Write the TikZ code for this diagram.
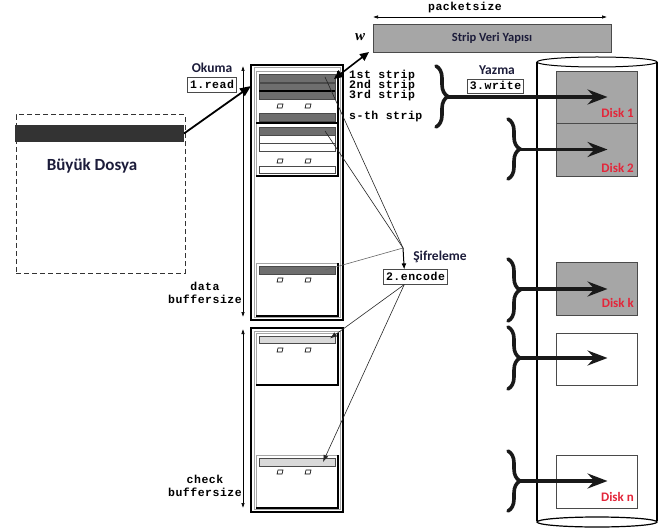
\documentclass[tikz,border=0pt]{standalone}
\usepackage{fontspec}
\setmainfont{Carlito}
\newfontfamily\monofont[LetterSpace=4.5]{Liberation Mono}
\newfontfamily\wseriffont{Liberation Serif}
\usetikzlibrary{arrows.meta,decorations.pathreplacing,calc}
\definecolor{navy}{HTML}{1C1C3A}
\definecolor{diskred}{HTML}{E3263A}
\definecolor{boxgray}{HTML}{A6A6A6}
\definecolor{bardark}{HTML}{6E6E6E}
\definecolor{barlight}{HTML}{D9D9D9}
\definecolor{edgegray}{HTML}{4A4A4A}
\newcommand{\tinyslot}[2]{\draw[line width=0.6pt, fill=white] (#1-3,#2+2) -- (#1+2,#2+2) -- (#1+3,#2-2) -- (#1-2,#2-2) -- cycle;}
\begin{document}
\begin{tikzpicture}[x=1pt,y=-1pt,
  rectnode/.style={anchor=north west, inner sep=0pt, outer sep=0pt},
  lbl/.style={font=\bfseries\fontsize{13.5}{15}\selectfont, text=navy, inner sep=0pt},
  mono/.style={font=\monofont\bfseries\fontsize{11.5}{10}\selectfont, inner sep=0pt},
  monobox/.style={mono, draw=edgegray, line width=0.7pt, fill=white, inner xsep=2.5pt, inner ysep=2pt, text height=8.5pt, text depth=2pt},
  disklbl/.style={font=\bfseries\fontsize{13}{14}\selectfont, text=diskred, inner sep=0pt, anchor=east},
  dbar/.style={rectnode, draw=edgegray, fill=bardark, line width=0.6pt},
  lbar/.style={rectnode, draw=edgegray, fill=barlight, line width=0.6pt},
  wbar/.style={rectnode, draw=edgegray, fill=white, line width=0.6pt},
  blk/.style={rectnode, draw=gray!70, line width=0.8pt},
  diskbox/.style={rectnode, draw=edgegray, line width=0.8pt},
  bigbrace/.style={decorate, decoration={brace, amplitude=12pt}, line width=3.6pt, line cap=round, draw=black!90},
  diskarrow/.style={line width=3.4pt, draw=black!90, -{Stealth[length=20pt,width=15pt,inset=7pt]}},
  dimarrow/.style={line width=0.6pt, {Latex[length=5pt,width=3.5pt]}-{Latex[length=5pt,width=3.5pt]}},
  thinline/.style={line width=0.6pt, draw=black!85},
  ]
\useasboundingbox (0,0) rectangle (671,529);

% ---------- big file ----------
\node[rectnode, draw=black!80, dashed, dash pattern=on 5pt off 3pt, line width=1pt, minimum width=169, minimum height=158] (file) at (16,115) {};
\node[rectnode, fill=black!80, minimum width=169, minimum height=17] (filebar) at (15,125) {};
\node[font=\bfseries\fontsize{17}{19}\selectfont, text=navy, inner sep=0pt] (filelbl) at (92,166) {Büyük Dosya};

% ---------- read ----------
\node[lbl] (okuma) at (212,68) {Okuma};
\node[monobox] (read) at (212,85) {1.read};

% ---------- dimension arrows left ----------
\coordinate (dT) at (243,66);
\coordinate (dB) at (243,317);
\coordinate (cT) at (243,329);
\coordinate (cB) at (243,508);
\draw[dimarrow] (dT) -- (dB);
\draw[dimarrow] (cT) -- (cB);
\node[mono, font=\monofont\bfseries\fontsize{11.5}{13}\selectfont, align=center] (datalbl) at (205,293) {data\\buffersize};
\node[mono, font=\monofont\bfseries\fontsize{11.5}{13}\selectfont, align=center] (chklbl) at (205,486) {check\\buffersize};

% ---------- data buffer ----------
\node[rectnode, draw, line width=2pt, minimum width=92, minimum height=255] (dbuf) at (251,65) {};
\draw[gray!70, line width=0.6pt] (253.8,67.8) rectangle (340.2,317.2);
\node[blk, minimum width=82, minimum height=52] (blkA) at (256,71) {};
\node[blk, minimum width=82, minimum height=53] (blkB) at (256,123) {};
\node[blk, minimum width=82, minimum height=53] (blkC) at (256,263) {};

\node[dbar, minimum width=76, minimum height=8] (bar1) at (259,74) {};
\node[dbar, minimum width=76, minimum height=8] (bar2) at (259,83) {};
\node[dbar, minimum width=76, minimum height=8] (bar3) at (259,91) {};
\draw[line width=1.3pt] (bar3.north west) -- (bar3.north east);
\tinyslot{280}{106}\tinyslot{308}{106}
\node[dbar, minimum width=76, minimum height=8] (bars) at (259,113) {};

\node[dbar, minimum width=76, minimum height=8] (barB1) at (259,127) {};
\node[wbar, minimum width=76, minimum height=8] (barB2) at (259,135) {};
\node[wbar, minimum width=76, minimum height=8] (barB3) at (259,143) {};
\tinyslot{280}{161}\tinyslot{308}{161}
\node[wbar, minimum width=76, minimum height=7] (barB4) at (259,166) {};

\node[dbar, minimum width=76, minimum height=8] (barC) at (259,266) {};
\tinyslot{280}{280}\tinyslot{308}{280}

% ---------- check buffer ----------
\node[rectnode, draw, line width=2pt, minimum width=92, minimum height=184] (cbuf) at (251,328) {};
\draw[gray!70, line width=0.6pt] (253.8,330.8) rectangle (340.2,509.2);
\node[blk, minimum width=82, minimum height=52] (cblk1) at (256,333) {};
\node[blk, minimum width=82, minimum height=53] (cblk2) at (256,455) {};
\node[lbar, minimum width=76, minimum height=7] (cbar1) at (259,336) {};
\tinyslot{280}{350}\tinyslot{308}{350}
\node[lbar, minimum width=76, minimum height=8] (cbar2) at (259,458) {};
\tinyslot{280}{472}\tinyslot{308}{472}

\foreach \b in {blkA,blkB,blkC,cblk1,cblk2}
  \draw[black, line width=1.2pt] (\b.north east) -- (\b.south east) -- (\b.south west);

% ---------- strip labels ----------
\node[mono, anchor=west] (l1) at (349,76) {1st strip};
\node[mono, anchor=west] (l2) at (349,86) {2nd strip};
\node[mono, anchor=west] (l3) at (349,96) {3rd strip};
\node[mono, anchor=west] (ls) at (349,117) {s-th strip};

% ---------- strip structure ----------
\node[mono] (pktlbl) at (465,8) {packetsize};
\coordinate (pkL) at (373,17);
\coordinate (pkR) at (607,17);
\draw[dimarrow] (pkL) -- (pkR);
\node[rectnode, draw=edgegray, fill=boxgray, line width=0.8pt, minimum width=238, minimum height=28] (strip) at (373,24) {};
\node[lbl, font=\bfseries\fontsize{12.5}{14}\selectfont] (striplbl) at (strip.center) {Strip Veri Yapısı};
\node[font=\wseriffont\bfseries\itshape\fontsize{15}{15}\selectfont, inner sep=0pt] (w) at (360,37) {w};

% ---------- arrows read / w ----------
\coordinate (rdEnd) at (251,86);
\draw[line width=1.8pt, -{Triangle[length=11pt,width=9pt]}] (filebar.east) -- (rdEnd);
\coordinate (wEnd) at (369,52);
\draw[line width=1.6pt, {Triangle[length=9pt,width=8pt]}-{Triangle[length=9pt,width=8pt]}] ($(bar1.east)+(-1,1)$) -- (wEnd);

% ---------- encode ----------
\node[lbl] (sifre) at (440,257) {Şifreleme};
\node[monobox] (encode) at (415.5,277) {2.encode};
\coordinate (conv) at (403,248);
\coordinate (encTop) at ($(encode.north west)+(21,0)$);
\coordinate (encBot) at ($(encode.south west)+(21,0)$);
\draw[thinline] ($(bar1.east)+(-10,-1)$) -- (conv);
\draw[thinline] ($(barB1.east)+(-10,0)$) -- (conv);
\draw[thinline, draw=black!60] ($(barC.east)+(-10,0)$) -- (conv);
\draw[line width=1pt, -{Latex[length=6pt,width=5pt]}] (conv) -- (encTop);
\draw[thinline, -{Latex[length=7pt,width=5pt]}] (encBot) -- ($(cbar1.east)+(-5,-1)$);
\draw[thinline, -{Latex[length=7pt,width=5pt]}] (encBot) -- ($(cbar2.east)+(-12,0)$);

% ---------- cylinder with disks ----------
\draw[line width=1.5pt] (537,62) -- (537,521);
\draw[line width=1.5pt] (657,62) -- (657,521);
\draw[line width=1pt, fill=white] (597,62) ellipse [x radius=60, y radius=5];
\draw[line width=1.2pt] (597,522) ellipse [x radius=60, y radius=5];

\node[diskbox, fill=boxgray, minimum width=81, minimum height=52] (disk1) at (556,71) {};
\node[diskbox, fill=boxgray, minimum width=81, minimum height=53] (disk2) at (556,123) {};
\node[diskbox, fill=boxgray, minimum width=81, minimum height=53] (diskk) at (556,262) {};
\node[diskbox, fill=white, minimum width=81, minimum height=52] (disk4) at (556,333) {};
\node[diskbox, fill=white, minimum width=81, minimum height=53] (diskn) at (556,455) {};

\node[disklbl] (d1lbl) at (634,113) {Disk 1};
\node[disklbl] (d2lbl) at (634,168) {Disk 2};
\node[disklbl] (dklbl) at (634,303) {Disk k};
\node[disklbl] (dnlbl) at (634,497) {Disk n};

% ---------- write ----------
\node[lbl] (yazma) at (497,70) {Yazma};
\node[monobox] (write) at (495.5,86.5) {3.write};

\draw[bigbrace] (436,66) -- (436,127);
\draw[bigbrace] (508,119) -- (508,179);
\draw[bigbrace] (508,259) -- (508,321);
\draw[bigbrace] (508,327) -- (508,389);
\draw[bigbrace] (508,451) -- (508,511);

\coordinate (t1) at (447,97);
\coordinate (t2) at (519,149.5);
\coordinate (tk) at (519,289);
\coordinate (t4) at (519,358);
\coordinate (tn) at (519,481);
\draw[diskarrow] (t1) -- ($(t1 -| disk1.center)+(11,0)$);
\draw[diskarrow] (t2) -- ($(t2 -| disk2.center)+(11,0)$);
\draw[diskarrow] (tk) -- ($(tk -| diskk.center)+(11,0)$);
\draw[diskarrow] (t4) -- ($(t4 -| disk4.center)+(11,0)$);
\draw[diskarrow] (tn) -- ($(tn -| diskn.center)+(11,0)$);
\end{tikzpicture}
\end{document}
